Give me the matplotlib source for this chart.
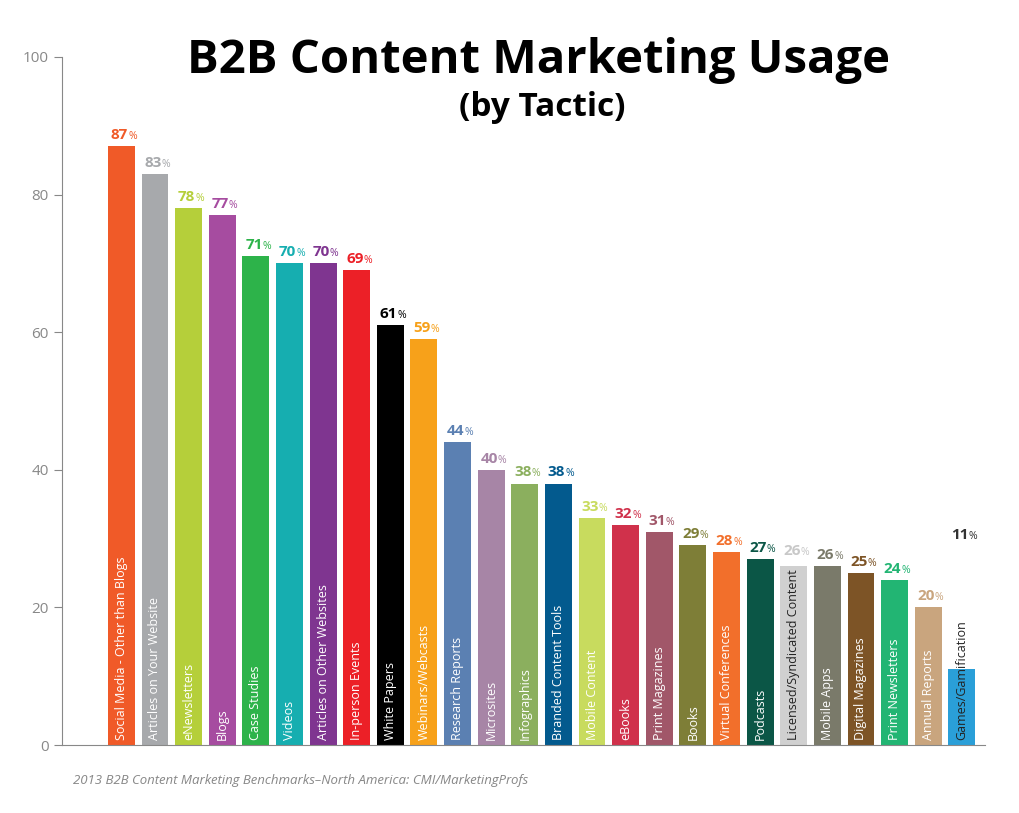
import matplotlib
matplotlib.use('Agg')
import matplotlib.pyplot as plt

# data
tactics = ['Social Media - Other than Blogs', 'Articles on Your Website', 'eNewsletters', 'Blogs',
           'Case Studies', 'Videos', 'Articles on Other Websites', 'In-person Events', 'White Papers',
           'Webinars/Webcasts', 'Research Reports', 'Microsites', 'Infographics', 'Branded Content Tools',
           'Mobile Content', 'eBooks', 'Print Magazines', 'Books', 'Virtual Conferences', 'Podcasts',
           'Licensed/Syndicated Content', 'Mobile Apps', 'Digital Magazines', 'Print Newsletters',
           'Annual Reports', 'Games/Gamification']
usage = [87, 83, 78, 77, 71, 70, 70, 69, 61, 59, 44, 40, 38, 38, 33, 32, 31, 29, 28, 27, 26, 26, 25, 24, 20, 11]
colors = ['#F05A28', '#A7A9AC', '#B5CF3A', '#A64CA0', '#2DB34A', '#16AEB0', '#7F3590', '#EC2027',
          '#000000', '#F7A11A', '#5B80B2', '#A785A6', '#8BAF5E', '#035A8E', '#C8DB5E', '#D0314B',
          '#A15769', '#7E7E37', '#F26F2B', '#0B5646', '#D0D0D0', '#7A7A6A', '#7D5426', '#22B573',
          '#C9A57E', '#2A9FD8']
label_colors = list(colors)
label_colors[20] = '#C8C8C8'
label_colors[25] = '#333333'
yticks = [0, 20, 40, 60, 80, 100]

plt.rcParams['font.family'] = 'Open Sans'

fig = plt.figure(figsize=(10.19, 8.13), dpi=100)
ax = fig.add_axes([0.061, 0.0836, 0.906, 0.8464])

x = list(range(len(usage)))
ax.bar(x, usage, width=0.8, color=colors)

for i, (v, name) in enumerate(zip(usage, tactics)):
    # 明るいバーとはみ出すラベルは濃い文字
    txt_color = '#222222' if i in (20, 25) else 'white'
    ax.text(i, 0.8, name, rotation=90, ha='center', va='bottom', color=txt_color, fontsize=9)
    y_lab = v + 0.6
    if i == 20:
        y_lab = v + 1.2
    if i == 25:
        y_lab = 29.5
    ax.text(i + 0.2, y_lab, str(v), ha='right', va='bottom', color=label_colors[i],
            fontsize=11, fontweight='bold')
    ax.text(i + 0.2, y_lab, '%', ha='left', va='bottom', color=label_colors[i], fontsize=7.5)

ax.set_xlim(-1.76, 25.7)
ax.set_ylim(0, 100)
ax.set_yticks(yticks)
ax.set_xticks([])
ax.tick_params(axis='y', colors='#888888', labelsize=11, length=6, direction='out')
for s in ['top', 'right']:
    ax.spines[s].set_visible(False)
ax.spines['left'].set_color('#888888')
ax.spines['bottom'].set_color('#888888')

fig.text(0.528, 0.925, 'B2B Content Marketing Usage', ha='center', va='center',
         fontsize=34, fontweight='bold')
fig.text(0.532, 0.868, '(by Tactic)', ha='center', va='center', fontsize=24, fontweight='bold')
fig.text(0.072, 0.04, '2013 B2B Content Marketing Benchmarks\u2013North America: CMI/MarketingProfs',
         ha='left', va='center', fontsize=9.5, style='italic', color='#888888')

fig.savefig('out.png', dpi=100)
